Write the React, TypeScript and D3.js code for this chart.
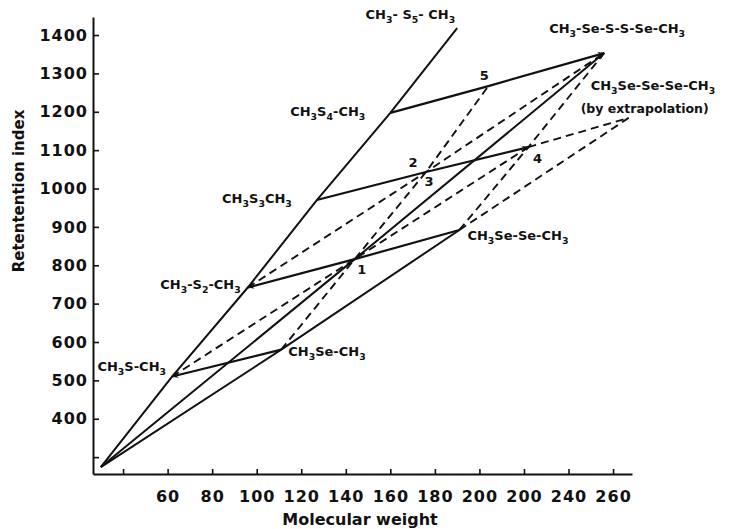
import React, { useEffect, useRef } from 'react';
import * as d3 from 'd3';

// [molecular weight, retention index]
const sulfurSeries = [[30, 274], [62, 510], [96, 742], [127, 970], [160, 1197], [190, 1418]];
const seleniumSeries = [[30, 274], [111, 580], [191, 892]];
const mixedSeries = [[30, 274], [144, 816], [256, 1353]];

// S -> Se replacement (solid)
const replaceLines = [
  [[111, 580], [62, 510]],
  [[191, 892], [144, 816], [96, 742]],
  [[127, 970], [176, 1043], [222, 1108]],
  [[160, 1197], [204, 1267], [256, 1353]],
];
// dashed construction lines
const dashedLines = [
  [[62, 510], [144, 816], [222, 1108]],
  [[96, 742], [176, 1043], [256, 1353]],
  [[111, 580], [144, 816], [176, 1043], [204, 1267]],
  [[191, 892], [222, 1108], [256, 1353]],
  [[191, 892], [267, 1184]],
  [[222, 1108], [267, 1184]],
];

const compoundNames = ['CH_3- S_5- CH_3', 'CH_3S_4-CH_3', 'CH_3S_3CH_3', 'CH_3-S_2-CH_3', 'CH_3S-CH_3',
  'CH_3Se-CH_3', 'CH_3Se-Se-CH_3', 'CH_3-Se-S-S-Se-CH_3', 'CH_3Se-Se-Se-CH_3'];
const compoundPoints = [[190, 1418], [160, 1197], [127, 970], [96, 742], [62, 510],
  [111, 580], [191, 892], [256, 1353], [267, 1184]];
const numberLabels = ['1', '2', '3', '4', '5'];
const numberPoints = [[144, 816], [176, 1043], [176, 1043], [222, 1108], [204, 1267]];

const yTicks = [300, 400, 500, 600, 700, 800, 900, 1000, 1100, 1200, 1300, 1400];
const xTicks = [40, 60, 80, 100, 120, 140, 160, 180, 200, 220, 240, 260];
const xTickLabels = ['', '60', '80', '100', '120', '140', '160', '180', '200', '200', '240', '260'];

const font = '"DejaVu Sans", sans-serif';

function formula(g, str, x, y, anchor) {
  const t = g.append('text').attr('x', x).attr('y', y).attr('text-anchor', anchor);
  let down = false;
  str.split(/(_\d)/).filter(Boolean).forEach(p => {
    if (p[0] === '_') {
      t.append('tspan').attr('dy', down ? 0 : 4).attr('font-size', '0.72em').text(p.slice(1));
      down = true;
    } else {
      t.append('tspan').attr('dy', down ? -4 : 0).text(p);
      down = false;
    }
  });
  return t;
}

export default function App() {
  const ref = useRef(null);

  useEffect(() => {
    const svg = d3.select(ref.current);
    svg.selectAll('*').remove();

    const x = d3.scaleLinear().domain([26.5, 268.5]).range([93, 632]);
    const y = d3.scaleLinear().domain([256, 1447]).range([474, 17]);

    svg.append('defs').append('marker')
      .attr('id', 'arr').attr('viewBox', '0 0 10 10').attr('refX', 9).attr('refY', 5)
      .attr('markerWidth', 7).attr('markerHeight', 7).attr('orient', 'auto')
      .attr('markerUnits', 'userSpaceOnUse')
      .append('path').attr('d', 'M0,1 L10,5 L0,9 L3,5 Z').attr('fill', '#111');

    // axes
    const yAxis = svg.append('g').attr('transform', `translate(${x(26.5)},0)`)
      .call(d3.axisLeft(y).tickValues(yTicks).tickSizeInner(-6).tickSizeOuter(0).tickPadding(5)
        .tickFormat(d => (d === 300 ? '' : String(d))));
    const xAxis = svg.append('g').attr('transform', `translate(0,${y(256)})`)
      .call(d3.axisBottom(x).tickValues(xTicks).tickSizeInner(-5).tickSizeOuter(0).tickPadding(17)
        .tickFormat((d, i) => xTickLabels[i]));
    [yAxis, xAxis].forEach(a => {
      a.select('.domain').attr('stroke', '#111').attr('stroke-width', 2);
      a.selectAll('.tick line').attr('stroke', '#111').attr('stroke-width', 1.6);
      a.selectAll('text').attr('font-family', font).attr('font-size', 16).attr('font-weight', 'bold')
        .attr('letter-spacing', 1).attr('fill', '#111');
    });

    const line = d3.line().x(d => x(d[0])).y(d => y(d[1]));
    const plot = svg.append('g').attr('fill', 'none').attr('stroke', '#111').attr('stroke-linejoin', 'round');

    [sulfurSeries, seleniumSeries].forEach(s => plot.append('path').attr('d', line(s)).attr('stroke-width', 2));
    plot.append('path').attr('d', line(mixedSeries)).attr('stroke-width', 2).attr('marker-end', 'url(#arr)');
    replaceLines.forEach(s => plot.append('path').attr('d', line(s)).attr('stroke-width', 2.2)
      .attr('marker-end', 'url(#arr)'));
    dashedLines.forEach(s => plot.append('path').attr('d', line(s)).attr('stroke-width', 1.9)
      .attr('stroke-dasharray', '8,5'));

    // labels
    const labels = svg.append('g').attr('font-family', font).attr('font-size', 13)
      .attr('font-weight', 'bold').attr('fill', '#111');
    const offs = [[-2, -9, 'end'], [-25, 3, 'end'], [-25, 3, 'end'], [-7, 1, 'end'], [-6, -6, 'end'],
      [7, 6, 'start'], [8, 10, 'start'], [-55, -20, 'start'], [-38, -28, 'start']];
    compoundNames.forEach((n, i) => {
      const [dx, dy, anchor] = offs[i];
      formula(labels, n, x(compoundPoints[i][0]) + dx, y(compoundPoints[i][1]) + dy, anchor);
    });
    labels.append('text').attr('x', x(267) - 48).attr('y', y(1184) - 5).attr('font-size', 12.5)
      .text('(by extrapolation)');
    const numOffs = [[7, 15], [-13, -5], [3, 14], [9, 16], [-4, -6]];
    numberLabels.forEach((n, i) => {
      labels.append('text').attr('x', x(numberPoints[i][0]) + numOffs[i][0])
        .attr('y', y(numberPoints[i][1]) + numOffs[i][1]).attr('text-anchor', 'middle').text(n);
    });

    // axis titles
    svg.append('text').attr('transform', 'translate(24,191) rotate(-90)').attr('text-anchor', 'middle')
      .attr('font-family', font).attr('font-size', 15).attr('font-weight', 'bold').attr('fill', '#111')
      .text('Retentention index');
    svg.append('text').attr('x', 360).attr('y', 525).attr('text-anchor', 'middle')
      .attr('font-family', font).attr('font-size', 16).attr('font-weight', 'bold').attr('fill', '#111')
      .text('Molecular weight');
  }, []);

  return (
    <svg ref={ref} width={736} height={529}
      style={{ position: 'absolute', left: 0, top: 0, background: '#fff' }} />
  );
}
